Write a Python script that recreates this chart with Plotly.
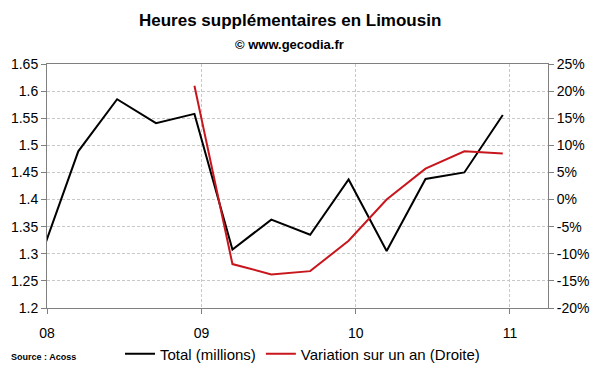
import plotly.graph_objects as go

# Quarterly data (mid of quarter-end month)
total_dates = ["2007-12-15", "2008-03-15", "2008-06-15", "2008-09-15", "2008-12-15",
               "2009-03-15", "2009-06-15", "2009-09-15", "2009-12-15",
               "2010-03-15", "2010-06-15", "2010-09-15", "2010-12-15"]
total_values = [1.29, 1.489, 1.585, 1.541, 1.558, 1.308, 1.363, 1.335, 1.437,
                1.305, 1.438, 1.450, 1.556]

var_dates = ["2008-12-15", "2009-03-15", "2009-06-15", "2009-09-15", "2009-12-15",
             "2010-03-15", "2010-06-15", "2010-09-15", "2010-12-15"]
var_values = [21.0, -11.9, -13.8, -13.2, -7.6, 0.0, 5.7, 8.9, 8.5]

left_ticks = [1.2, 1.25, 1.3, 1.35, 1.4, 1.45, 1.5, 1.55, 1.6, 1.65]
left_ticktext = ["1.2", "1.25", "1.3", "1.35", "1.4", "1.45", "1.5", "1.55", "1.6", "1.65"]
right_ticks = [-20, -15, -10, -5, 0, 5, 10, 15, 20, 25]
right_ticktext = ["-20%", "-15%", "-10%", "-5%", "0%", "5%", "10%", "15%", "20%", "25%"]

FONT = "Liberation Sans, Arial, sans-serif"
AXIS = "#808080"
GRID = "#c8c8c8"

fig = go.Figure()
fig.add_trace(go.Scatter(x=total_dates, y=total_values, mode="lines",
                         name="Total (millions)",
                         line=dict(color="#000000", width=2)))
fig.add_trace(go.Scatter(x=var_dates, y=var_values, mode="lines",
                         name="Variation sur un an (Droite)", yaxis="y2",
                         line=dict(color="#c8161d", width=2)))

fig.update_layout(
    width=592, height=364,
    margin=dict(l=39, r=52, t=56, b=64, autoexpand=False),
    paper_bgcolor="white", plot_bgcolor="white",
    font=dict(family=FONT, size=13, color="#000000"),
    xaxis=dict(type="date", range=["2008-01-01", "2011-04-01"],
               tick0="2008-01-01", dtick="M12", tickformat="%y",
               showgrid=True, gridcolor=GRID, griddash="3px,2px", gridwidth=1,
               showline=True, linecolor=AXIS, linewidth=1, mirror=True,
               ticks="outside", ticklen=5, tickcolor=AXIS,
               ticklabelstandoff=7,
               tickfont=dict(size=14), zeroline=False),
    yaxis=dict(range=[1.2, 1.65], tickvals=left_ticks, ticktext=left_ticktext,
               showgrid=True, gridcolor=GRID, griddash="3px,2px", gridwidth=1,
               showline=True, linecolor=AXIS, linewidth=1,
               ticks="outside", ticklen=5, tickcolor=AXIS,
               tickfont=dict(size=14), zeroline=False),
    yaxis2=dict(range=[-20, 25], tickvals=right_ticks, ticktext=right_ticktext,
                overlaying="y", side="right", showgrid=False,
                showline=True, linecolor=AXIS, linewidth=1,
                ticks="outside", ticklen=5, tickcolor=AXIS,
                tickfont=dict(size=14), zeroline=False),
    legend=dict(orientation="h", x=0.51, xanchor="center", y=-0.189, yanchor="middle",
                font=dict(size=15), bgcolor="rgba(0,0,0,0)", itemwidth=30,
                tracegroupgap=0),
    showlegend=True,
)

fig.add_annotation(text="<b>Heures supplémentaires en Limousin</b>", xref="paper", yref="paper",
                   x=0.485, y=1.0, yshift=44, xanchor="center", yanchor="middle",
                   showarrow=False, font=dict(size=17, family=FONT))
fig.add_annotation(text="<b>© www.gecodia.fr</b>", xref="paper", yref="paper",
                   x=0.485, y=1.0, yshift=20, xanchor="center", yanchor="middle",
                   showarrow=False, font=dict(size=13, family=FONT))
fig.add_annotation(text="<b>Source : Acoss</b>", xref="paper", yref="paper",
                   x=-0.076, y=-0.2, xanchor="left", yanchor="middle",
                   showarrow=False, font=dict(size=9, family=FONT))

fig.write_html("out.html")
